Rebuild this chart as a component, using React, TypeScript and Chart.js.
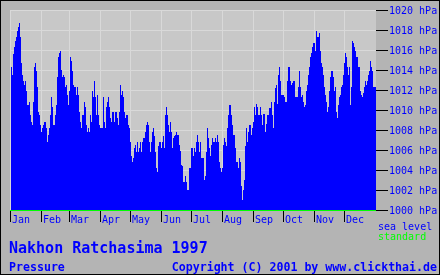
import React, { useEffect, useRef } from "react";
import { Chart, registerables } from "chart.js";

Chart.register(...registerables);

// Daily sea-level pressure (hPa), Nakhon Ratchasima 1997
const pressureQ1: number[] = [
  1015.3, 1014.3, 1013.5, 1015.6, 1016.3, 1016.9, 1017.3, 1017.9, 1018.3, 1018.7,
  1017.3, 1014.7, 1013.5, 1012.9, 1012.5, 1012.9, 1011.9, 1010.5, 1010.5, 1010.8,
  1009.5, 1008.8, 1008.5, 1010.8, 1014.3, 1014.7, 1013.9, 1012.3, 1009.8, 1009.5,
  1008.5, 1007.8, 1008.2, 1008.5, 1008.8, 1008.8, 1008.2, 1006.8, 1007.5, 1008.2,
  1009.5, 1011.3, 1010.3, 1008.5, 1008.5, 1009.5, 1010.5, 1013.3, 1015.3, 1015.7,
  1015.9, 1014.0, 1013.3, 1013.5, 1013.3, 1012.3, 1012.5, 1011.5, 1010.5, 1011.9,
  1015.3, 1014.9, 1013.9, 1012.5, 1012.3, 1012.3, 1011.5, 1012.3, 1011.5, 1009.8,
  1008.8, 1008.2, 1009.5, 1009.5, 1010.8, 1010.3, 1008.5, 1007.8, 1008.2, 1007.8,
  1009.5, 1008.8, 1011.9, 1011.3, 1012.9, 1011.3, 1009.5, 1011.5, 1009.5, 1008.5,
  1008.2, 1008.2, 1008.2,
];

const pressureQ2: number[] = [
  1011.3, 1008.8, 1008.2, 1010.3, 1010.8, 1011.3, 1010.3, 1009.2, 1008.8, 1009.8,
  1009.8, 1008.8, 1009.8, 1009.8, 1009.2, 1008.5, 1009.8, 1012.5, 1011.5, 1011.9,
  1011.3, 1009.8, 1009.2, 1009.5, 1009.5, 1008.5, 1008.2, 1006.8, 1005.4, 1004.8,
  1005.2, 1006.2, 1006.5, 1005.8, 1006.8, 1005.8, 1006.2, 1006.8, 1005.8, 1006.8,
  1007.2, 1007.2, 1007.8, 1008.5, 1008.8, 1008.5, 1006.8, 1005.8, 1006.8, 1007.8,
  1008.2, 1007.4, 1005.8, 1004.2, 1003.8, 1006.4, 1006.8, 1006.8, 1006.2, 1006.8,
  1007.4, 1006.2, 1009.5, 1010.3, 1009.5, 1008.5, 1007.8, 1008.8, 1007.8, 1006.2,
  1007.2, 1007.4, 1007.5, 1007.8, 1007.5, 1007.5, 1006.5, 1005.9, 1004.5, 1004.4,
  1002.8, 1002.8, 1003.4, 1002.8, 1002.0, 1002.0, 1004.2, 1004.2, 1006.2,
];

const pressureQ3: number[] = [
  1006.2, 1005.4, 1006.2, 1005.8, 1006.8, 1007.5, 1006.8, 1005.8, 1006.8, 1005.2,
  1005.2, 1005.2, 1003.0, 1003.4, 1005.8, 1008.2, 1007.2, 1006.2, 1005.4, 1006.5,
  1007.2, 1006.8, 1006.8, 1007.2, 1006.8, 1007.5, 1006.8, 1004.8, 1004.2, 1003.8,
  1004.2, 1006.5, 1007.2, 1006.8, 1006.4, 1008.2, 1009.5, 1010.5, 1010.5, 1009.5,
  1008.5, 1007.5, 1007.5, 1006.2, 1004.8, 1004.8, 1004.2, 1005.2, 1004.8, 1002.4,
  1001.0, 1002.0, 1003.0, 1006.4, 1008.2, 1006.8, 1007.8, 1008.5, 1008.5, 1007.5,
  1008.2, 1008.8, 1010.3, 1009.5, 1010.6, 1010.3, 1009.5, 1009.5, 1010.3, 1009.5,
  1008.5, 1009.6, 1009.6, 1007.8, 1008.6, 1009.5, 1009.5, 1010.2, 1010.2, 1010.8,
  1009.5, 1008.2, 1010.8, 1012.2, 1012.5, 1010.6, 1013.5, 1014.3, 1012.9, 1011.5,
];

const pressureQ4: number[] = [
  1011.5, 1011.5, 1011.3, 1010.8, 1010.8, 1012.9, 1014.3, 1014.3, 1012.9, 1012.5,
  1012.7, 1012.9, 1012.9, 1011.3, 1011.3, 1011.3, 1012.3, 1013.9, 1012.3, 1011.3,
  1011.5, 1010.8, 1010.3, 1010.5, 1011.9, 1012.5, 1013.5, 1014.3, 1015.3, 1015.7,
  1016.3, 1016.7, 1016.7, 1015.9, 1017.9, 1017.3, 1017.3, 1017.7, 1015.9, 1014.7,
  1014.3, 1013.5, 1012.3, 1011.5, 1010.8, 1009.8, 1010.3, 1011.9, 1013.3, 1013.9,
  1013.9, 1013.3, 1011.9, 1012.3, 1009.8, 1009.2, 1010.5, 1011.3, 1011.5, 1012.3,
  1012.5, 1013.5, 1014.7, 1015.7, 1015.3, 1014.3, 1013.5, 1014.3, 1010.5, 1012.3,
  1016.9, 1016.7, 1016.3, 1015.9, 1015.3, 1015.3, 1014.3, 1014.3, 1011.9, 1011.5,
  1011.3, 1011.7, 1012.3, 1012.9, 1012.5, 1012.9, 1013.5, 1013.9, 1014.9, 1014.3,
  1013.9, 1012.3,
];

const months: string[] = ["Jan", "Feb", "Mar", "Apr", "May", "Jun", "Jul", "Aug", "Sep", "Oct", "Nov", "Dec"];
const monthStartDays: number[] = [0, 31, 59, 90, 120, 151, 181, 212, 243, 273, 304, 334];
const pressureTicks: number[] = [1000, 1002, 1004, 1006, 1008, 1010, 1012, 1014, 1016, 1018, 1020];

const titleText = "Nakhon Ratchasima 1997";
const subtitleText = "Pressure";
const copyrightText = "Copyright (C) 2001 by www.clickthai.de";
const legendTop = "sea level";
const legendBottom = "standard";

const BLUE = "#0000ff";
const GREEN = "#00ff00";
const MONO = '"DejaVu Sans Mono", "Liberation Mono", monospace';

export default function App() {
  const canvasRef = useRef<HTMLCanvasElement | null>(null);

  useEffect(() => {
    document.body.style.margin = "0";
    const canvas = canvasRef.current;
    if (!canvas) return;

    const values = [...pressureQ1, ...pressureQ2, ...pressureQ3, ...pressureQ4];
    const points = values.map((v, i) => ({ x: i + 1, y: v }));
    points.push({ x: 366, y: values[values.length - 1] });

    const decor = {
      id: "decor",
      beforeDraw(chart: any) {
        const ctx = chart.ctx as CanvasRenderingContext2D;
        const { left, right, top, bottom } = chart.chartArea;
        const xs = chart.scales.x;
        const ys = chart.scales.y;
        ctx.save();
        ctx.fillStyle = "#b4b4b4";
        ctx.fillRect(0, 0, chart.width, chart.height);
        ctx.fillStyle = "#c8c8c8";
        ctx.fillRect(left, top, right - left, bottom - top);
        ctx.strokeStyle = "#d9d9d9";
        ctx.lineWidth = 1;
        ctx.beginPath();
        for (const t of pressureTicks) {
          const y = Math.round(ys.getPixelForValue(t)) + 0.5;
          ctx.moveTo(left, y);
          ctx.lineTo(right, y);
        }
        for (const d of monthStartDays) {
          const x = Math.round(xs.getPixelForValue(d)) + 0.5;
          ctx.moveTo(x, top);
          ctx.lineTo(x, bottom);
        }
        ctx.stroke();
        ctx.restore();
      },
      afterDraw(chart: any) {
        const ctx = chart.ctx as CanvasRenderingContext2D;
        const { left, right, bottom } = chart.chartArea;
        const xs = chart.scales.x;
        const ys = chart.scales.y;
        ctx.save();
        // green baseline
        ctx.strokeStyle = GREEN;
        ctx.lineWidth = 1;
        ctx.beginPath();
        ctx.moveTo(left, bottom + 0.5);
        ctx.lineTo(right, bottom + 0.5);
        ctx.stroke();

        // right axis ticks and month ticks
        ctx.strokeStyle = "#000000";
        ctx.beginPath();
        for (const t of pressureTicks) {
          const y = Math.round(ys.getPixelForValue(t)) + 0.5;
          ctx.moveTo(right, y);
          ctx.lineTo(right + 12, y);
        }
        for (const d of monthStartDays) {
          const x = Math.round(xs.getPixelForValue(d)) + 0.5;
          ctx.moveTo(x, bottom + 1);
          ctx.lineTo(x, bottom + 12);
        }
        ctx.stroke();

        ctx.fillStyle = BLUE;
        ctx.font = `10px ${MONO}`;
        ctx.textAlign = "left";
        ctx.textBaseline = "alphabetic";
        for (const t of pressureTicks) {
          const y = Math.round(ys.getPixelForValue(t));
          ctx.fillText(`${t} hPa`, right + 13, y + 4);
        }
        months.forEach((m, i) => {
          const x = Math.round(xs.getPixelForValue(monthStartDays[i]));
          ctx.fillText(m, x + 2, bottom + 13);
        });

        ctx.fillText(legendTop, right + 2, 230);
        ctx.fillStyle = GREEN;
        ctx.fillText(legendBottom, right + 2, 240);

        ctx.fillStyle = BLUE;
        ctx.font = `bold 15px ${MONO}`;
        ctx.fillText(titleText, 9, 253);
        ctx.font = `bold 11.6px ${MONO}`;
        ctx.fillText(subtitleText, 9, 271);
        ctx.textAlign = "right";
        ctx.fillText(copyrightText, 437, 271);

        // outer frame
        ctx.strokeStyle = "#000000";
        ctx.lineWidth = 1;
        ctx.strokeRect(0.5, 0.5, chart.width - 1, chart.height - 1);
        ctx.restore();
      },
    };

    const chart = new Chart(canvas, {
      type: "line",
      data: {
        datasets: [
          {
            data: points,
            stepped: "after" as any,
            fill: "start",
            backgroundColor: BLUE,
            borderColor: BLUE,
            borderWidth: 0,
            pointRadius: 0,
          },
        ],
      },
      options: {
        responsive: false,
        animation: false,
        events: [],
        layout: { padding: { left: 10, top: 10, right: 64, bottom: 65 } },
        plugins: { legend: { display: false }, tooltip: { enabled: false } },
        scales: {
          x: { type: "linear", min: 0, max: 366, display: false },
          y: { type: "linear", min: 1000, max: 1020, display: false },
        },
      },
      plugins: [decor],
    });
    return () => chart.destroy();
  }, []);

  return <canvas ref={canvasRef} width={440} height={275} style={{ display: "block" }} />;
}
